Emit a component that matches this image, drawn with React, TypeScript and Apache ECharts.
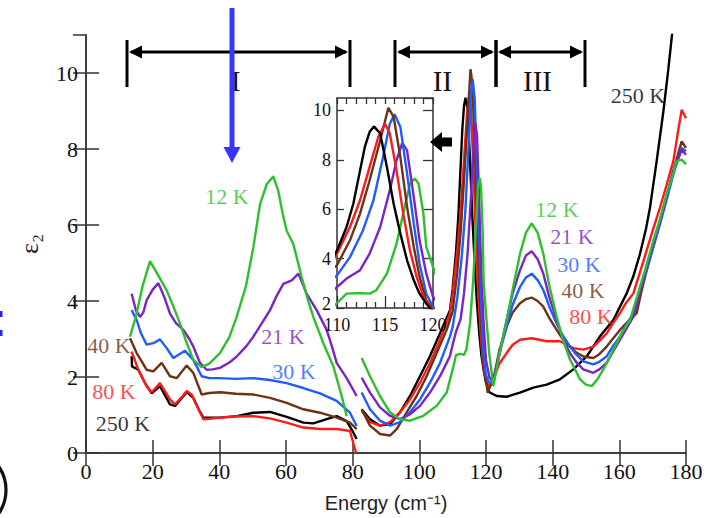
import React, { useEffect, useRef } from "react";
import * as echarts from "echarts";

// ---------- data (energy cm^-1, epsilon_2) ----------
const GAP: [number, string] = [81.9, "-"];

const k12: any[] = [
  [13.2, 3.06], [15, 3.6], [17, 4.4], [19.2, 5.05], [21.5, 4.7], [24.2, 4.28], [26, 3.9], [28.2, 3.41], [30.2, 2.9], [32.2, 2.45], [34.7, 2.26], [37, 2.35], [40.2, 2.63], [43, 3.05], [45.2, 3.58], [48, 4.4], [50.2, 5.41], [52.2, 6.54], [54.2, 7.07], [56.2, 7.28], [57.7, 6.89], [59, 6.3], [60.2, 5.85], [62.2, 5.5], [64.7, 4.63], [66.5, 4.05], [68.2, 3.58], [71.2, 2.89], [74.2, 2.28], [76.7, 1.5], [78.2, 0.97],
  GAP,
  [82.7, 2.5], [85.2, 2.02], [88.2, 1.5], [91.2, 1.07], [94.2, 0.89], [97.2, 0.85], [101.2, 0.98], [105.2, 1.24], [108.2, 1.59], [110, 2.2], [111, 2.58], [112.4, 2.61], [113.4, 2.58], [114.1, 2.72], [115.2, 3.39], [116.2, 4.6], [116.9, 5.82], [117.6, 7.03], [118.1, 7.24], [118.5, 7.03], [119, 5.82], [119.3, 4.47], [120, 3.66], [121, 2.6], [122.2, 1.76], [124, 2.6], [126.2, 3.5], [128, 4.3], [130.2, 5.24], [132, 5.8], [133.7, 6.04], [135.5, 5.8], [137.2, 5.24], [139, 4.4], [141.2, 3.59], [143, 3.0], [145.2, 2.46], [148.2, 1.94], [150, 1.8], [151.7, 1.76], [153.5, 1.95], [155.2, 2.2], [157, 2.5], [159.2, 2.89], [161, 3.2], [163.2, 3.5], [166.2, 4.37], [168, 4.9], [170.2, 5.59], [172, 6.1], [174.2, 6.81], [176, 7.3], [177.2, 7.68], [178.7, 7.72], [180, 7.6],
];

const k21: any[] = [
  [13.7, 4.19], [15, 3.75], [16.2, 3.58], [17.2, 3.7], [18.2, 4.02], [20, 4.3], [21.7, 4.47], [23.5, 4.1], [25.2, 3.67], [27, 3.42], [29.2, 3.24], [31, 3.0], [32.2, 2.8], [34.2, 2.37], [36.2, 2.19], [38, 2.2], [40.2, 2.24], [43, 2.38], [45.2, 2.54], [48, 2.8], [50.2, 3.06], [53, 3.45], [55.2, 3.76], [57, 4.1], [59.2, 4.45], [61.7, 4.54], [63.7, 4.72], [65, 4.45], [66.2, 4.19], [69.2, 3.76], [72.2, 3.24], [73.8, 2.8], [75.2, 2.37], [78.2, 1.97], [81.2, 1.5],
  GAP,
  [82.7, 1.98], [85.2, 1.59], [88.2, 1.2], [91.2, 0.98], [94.2, 0.89], [97.2, 1.02], [100.2, 1.24], [103.2, 1.59], [106.2, 2.02], [109.2, 2.55], [110, 2.85], [111, 3.19], [112.4, 3.53], [113.4, 4.2], [114.5, 5.28], [115.5, 6.76], [116.2, 7.98], [116.8, 8.68], [117.3, 8.38], [118, 6.49], [118.6, 4.74], [119.3, 3.39], [120, 2.45], [121, 2.0], [122.2, 1.85], [124, 2.6], [126.2, 3.5], [128, 4.2], [130.2, 4.81], [132, 5.2], [133.7, 5.31], [135.5, 5.1], [137.2, 4.72], [139, 4.1], [141.2, 3.5], [143, 3.0], [145.2, 2.63], [147, 2.4], [149.2, 2.2], [152.2, 2.11], [154, 2.2], [156.2, 2.37], [158, 2.65], [160.2, 2.98], [162, 3.25], [164.2, 3.59], [166, 4.2], [168.2, 4.9], [170, 5.45], [172.2, 6.11], [174, 6.7], [176.2, 7.42], [178.7, 7.98], [180, 7.85],
];

const k30: any[] = [
  [13.7, 3.76], [15.2, 3.5], [16.5, 3.15], [18.2, 2.85], [20.2, 2.89], [22.2, 2.99], [24.2, 2.76], [26.2, 2.5], [28, 2.6], [29.7, 2.69], [32.2, 2.45], [34.7, 2.02], [37, 1.97], [40.2, 1.97], [45, 1.95], [50.2, 1.97], [55.2, 1.92], [60.2, 1.84], [65.2, 1.71], [70.2, 1.57], [75.2, 1.37], [79.2, 1.06], [81.2, 0.71],
  GAP,
  [82.7, 1.59], [85.2, 1.15], [88.2, 0.85], [91.2, 0.72], [94.2, 0.81], [97.2, 1.07], [100.2, 1.41], [103.2, 1.85], [106.2, 2.37], [109.2, 3.07], [110, 3.32], [111.35, 4.06], [112.7, 5.14], [113.8, 6.36], [114.8, 8.11], [115.5, 9.46], [116, 9.84], [116.6, 9.33], [117.3, 7.44], [118, 5.41], [118.6, 3.79], [119.3, 2.58], [120, 2.04], [121, 1.85], [122.2, 1.85], [124, 2.6], [126.2, 3.33], [128, 3.9], [130.2, 4.37], [132, 4.62], [133.7, 4.72], [135.5, 4.55], [137.2, 4.29], [139, 3.85], [141.2, 3.41], [143, 3.1], [145.2, 2.8], [147, 2.6], [149.2, 2.41], [152.2, 2.33], [154, 2.4], [156.2, 2.54], [158, 2.8], [160.2, 3.07], [162, 3.35], [164.2, 3.68], [166, 4.2], [168.2, 4.81], [170, 5.35], [172.2, 6.02], [174, 6.6], [176.2, 7.33], [178.7, 8.03], [180, 7.94],
];

const k40: any[] = [
  [13.2, 3.02], [15.2, 2.63], [16.8, 2.4], [18.2, 2.19], [20.2, 2.15], [22.7, 2.37], [25.2, 2.02], [27.2, 1.97], [30.2, 2.3], [32.2, 2.11], [34.7, 1.54], [37, 1.58], [40.2, 1.6], [45, 1.56], [50.2, 1.54], [55.2, 1.45], [60.2, 1.32], [65.2, 1.15], [70.2, 1.06], [75.2, 0.93], [79.2, 0.8], [81.2, 0.63],
  GAP,
  [82.7, 1.15], [85.2, 0.72], [88.2, 0.5], [91.2, 0.46], [93.2, 0.63], [96.2, 1.07], [99.2, 1.5], [102.2, 2.02], [105.2, 2.63], [108.2, 3.24], [110, 3.73], [111.35, 4.74], [112.4, 5.82], [113.4, 7.17], [114.5, 8.79], [115.35, 10.1], [115.9, 9.73], [116.6, 8.11], [117.3, 6.09], [118, 4.47], [118.6, 3.26], [119.3, 2.31], [119.9, 2.0], [120.5, 1.58], [121.2, 1.75], [122.2, 1.94], [124, 2.7], [126.2, 3.33], [128, 3.7], [130.2, 3.94], [132, 4.05], [133.7, 4.09], [135.5, 4.0], [137.2, 3.85], [139, 3.55], [141.2, 3.24], [143, 3.0], [145.2, 2.8], [147, 2.65], [149.2, 2.54], [152.2, 2.5], [154, 2.6], [156.2, 2.8], [158, 3.0], [160.2, 3.24], [162.5, 3.45], [165.2, 3.68], [166.5, 4.2], [168.2, 4.81], [170, 5.4], [172.2, 6.11], [174, 6.7], [176.2, 7.42], [178.7, 8.2], [180, 8.03],
];

const k80: any[] = [
  [13.7, 2.67], [15.7, 2.19], [18.2, 1.76], [19.7, 1.6], [22.2, 1.84], [25.2, 1.41], [26.7, 1.28], [28.5, 1.45], [30.2, 1.63], [31.7, 1.54], [33.5, 1.2], [35.2, 0.89], [37, 0.9], [40.2, 0.93], [45, 0.96], [50.2, 0.97], [55.2, 0.91], [60.2, 0.8], [65.2, 0.67], [70.2, 0.63], [75.2, 0.63], [79.2, 0.58], [80.7, 0.1], [81.1, 0],
  GAP,
  [82.7, 1.11], [85.2, 0.81], [88.2, 0.72], [91.2, 0.81], [94.2, 1.07], [97.2, 1.41], [100.2, 1.85], [103.2, 2.37], [106.2, 2.98], [109.2, 3.67], [110, 4.2], [111.35, 5.28], [112.4, 6.36], [113.4, 7.71], [114.3, 8.92], [115, 9.46], [115.5, 9.06], [116.2, 7.57], [116.9, 5.82], [117.6, 4.33], [118.3, 3.26], [119, 2.45], [119.7, 2.04], [120.5, 1.8], [121.2, 1.75], [122.2, 1.94], [124, 2.35], [126.2, 2.63], [128, 2.85], [130.2, 2.98], [133.7, 3.02], [136, 2.98], [138.2, 2.94], [142.2, 2.94], [146.2, 2.76], [149.2, 2.72], [152.2, 2.8], [154, 2.95], [156.2, 3.15], [158, 3.4], [160.2, 3.68], [162, 3.95], [164.2, 4.2], [166, 4.7], [168.2, 5.33], [170, 5.85], [172.2, 6.46], [174, 7.0], [176.2, 7.68], [177.5, 8.4], [178.7, 9.03], [180, 8.81],
];

const k250: any[] = [
  [13.7, 2.55], [13.8, 2.28], [15.7, 2.19], [17.7, 1.84], [19.7, 1.57], [22.2, 1.76], [25.2, 1.28], [26.7, 1.24], [28.5, 1.42], [30.2, 1.6], [32.2, 1.45], [33.8, 1.15], [35.2, 0.93], [40.2, 0.93], [45.2, 0.97], [50.2, 1.06], [55.2, 1.08], [60.2, 0.95], [65.2, 0.8], [68.2, 0.78], [72.2, 0.89], [75.2, 0.97], [78.2, 0.84], [80.2, 0.54], [81.2, 0.37],
  GAP,
  [82.7, 1.15], [85.2, 0.89], [88.2, 0.72], [91.2, 0.76], [94.2, 1.07], [97.2, 1.5], [100.2, 2.02], [103.2, 2.55], [106.2, 3.15], [109.2, 3.76], [110, 4.33], [111, 5.28], [111.7, 6.22], [112.4, 7.57], [112.9, 8.52], [113.4, 9.13], [113.85, 9.35], [114.5, 9.06], [115.2, 7.71], [115.9, 6.22], [116.6, 5.01], [117.3, 3.93], [118, 3.12], [118.6, 2.58], [119.3, 2.18], [120, 1.85], [121, 1.6], [123.2, 1.5], [126.2, 1.48], [130.2, 1.59], [134.2, 1.72], [138.2, 1.8], [142.2, 1.94], [146.2, 2.2], [150.2, 2.54], [154.2, 3.07], [158.2, 3.5], [162.2, 4.2], [164.2, 4.65], [166.2, 5.24], [168, 5.9], [169.2, 6.46], [171.2, 7.68], [173.2, 8.98], [174.7, 10.1], [176, 11.16], [177, 12],
];

const seriesNames = ["12 K", "21 K", "30 K", "40 K", "80 K", "250 K"];
const seriesData = [k12, k21, k30, k40, k80, k250];
const seriesColors = ["#2dbf2d", "#7a24c8", "#1f5cff", "#6e3214", "#ff1a1a", "#000000"];

// curve labels (data units)
const labelText = ["12 K", "21 K", "30 K", "40 K", "80 K", "250 K", "12 K", "21 K", "30 K", "40 K", "80 K", "250 K"];
const labelSeries = [0, 1, 2, 3, 4, 5, 0, 1, 2, 3, 4, 5];
const labelX = [42.3, 59.1, 62.4, 6.9, 8.4, 11.1, 141.3, 145.8, 147.9, 149.1, 151.5, 165.6];
const labelY = [6.8, 3.11, 2.2, 2.88, 1.66, 0.84, 6.46, 5.75, 5.02, 4.34, 3.64, 9.46];

// region brackets
const regionNames = ["I", "II", "III"];
const regionFrom = [12.3, 92.7, 123];
const regionTo = [79.2, 123, 149.7];

// axis ranges / ticks
const mainXMin = 0, mainXMax = 180, mainXStep = 20;
const mainYMin = 0, mainYMax = 11, mainYStep = 2;
const insetXMin = 110, insetXMax = 120, insetXStep = 5;
const insetYMin = 2, insetYMax = 10.5, insetYStep = 2;

const SERIF = "Liberation Serif, Times New Roman, serif";
const SANS = "Liberation Sans, Arial, sans-serif";

const G = { left: 86, top: 35, width: 600, height: 422 };
const I = { left: 337, top: 98, width: 96, height: 210 };

function px(x: number) {
  return G.left + ((x - mainXMin) / (mainXMax - mainXMin)) * G.width;
}

export default function App() {
  const ref = useRef<HTMLDivElement>(null);
  useEffect(() => {
    if (!ref.current) return;
    const chart = echarts.init(ref.current, undefined, { renderer: "svg" });
    const axisLine = { show: true, lineStyle: { color: "#333", width: 1.5 } };

    const graphic: any[] = [];
    const barTop = 40, barBot = 87, arrowY = 52;
    regionNames.forEach((name, i) => {
      const x1 = px(regionFrom[i]);
      const x2 = px(regionTo[i]);
      graphic.push({ type: "line", shape: { x1: x1 + 4, y1: arrowY, x2: x2 - 4, y2: arrowY }, style: { stroke: "#000", lineWidth: 3 } });
      graphic.push({ type: "line", shape: { x1: x1, y1: barTop, x2: x1, y2: barBot }, style: { stroke: "#000", lineWidth: 3 } });
      graphic.push({ type: "line", shape: { x1: x2, y1: barTop, x2: x2, y2: barBot }, style: { stroke: "#000", lineWidth: 3 } });
      graphic.push({ type: "polygon", shape: { points: [[x1 + 2, arrowY], [x1 + 15, arrowY - 6.5], [x1 + 15, arrowY + 6.5]] }, style: { fill: "#000" } });
      graphic.push({ type: "polygon", shape: { points: [[x2 - 2, arrowY], [x2 - 15, arrowY - 6.5], [x2 - 15, arrowY + 6.5]] }, style: { fill: "#000" } });
      graphic.push({ type: "text", x: (x1 + x2) / 2 - 3, y: 81, style: { text: name, fill: "#111", fontSize: 29, fontFamily: SERIF, align: "center", verticalAlign: "middle" } });
    });
    // blue arrow
    const bx = 232;
    graphic.push({ type: "line", shape: { x1: bx, y1: 8, x2: bx, y2: 150 }, style: { stroke: "#3535ff", lineWidth: 5 } });
    graphic.push({ type: "polygon", shape: { points: [[bx - 8.5, 147], [bx + 8.5, 147], [bx, 163]] }, style: { fill: "#3535ff" } });
    // black arrow pointing left
    graphic.push({ type: "polygon", z: 30, shape: { points: [[430, 142], [442, 132], [442, 137.5], [452, 137.5], [452, 146.5], [442, 146.5], [442, 152]] }, style: { fill: "#000" } });
    // cropped fragments at the left edge
    graphic.push({ type: "rect", shape: { x: 0, y: 311, width: 2.5, height: 6 }, style: { fill: "#2222ff" } });
    graphic.push({ type: "rect", shape: { x: 0, y: 330, width: 2.5, height: 6 }, style: { fill: "#2222ff" } });
    graphic.push({ type: "arc", shape: { cx: -36, cy: 490, r: 42, startAngle: -0.58, endAngle: 0.58 }, style: { stroke: "#111", lineWidth: 3.2, fill: null } });

    const series: any[] = [];
    seriesData.forEach((d, i) => {
      series.push({ type: "line", name: seriesNames[i], xAxisIndex: 0, yAxisIndex: 0, data: d, showSymbol: false, symbol: "none", connectNulls: false, lineStyle: { color: seriesColors[i], width: 2.4 }, itemStyle: { color: seriesColors[i] }, z: 3 + (5 - i) });
    });
    seriesData.forEach((d, i) => {
      series.push({ type: "line", name: seriesNames[i] + " inset", xAxisIndex: 2, yAxisIndex: 2, data: d, showSymbol: false, symbol: "none", connectNulls: false, lineStyle: { color: seriesColors[i], width: 2.4 }, itemStyle: { color: seriesColors[i] }, z: 12 });
    });
    // curve labels as a label-only scatter series
    series.push({
      type: "scatter", name: "labels", xAxisIndex: 0, yAxisIndex: 0, z: 20, silent: true,
      symbolSize: 1, itemStyle: { color: "rgba(0,0,0,0)" },
      data: labelText.map((t, i) => ({
        value: [labelX[i], labelY[i]], name: t,
        label: { color: seriesColors[labelSeries[i]] },
      })),
      label: { show: true, position: "inside", offset: [0, 2], formatter: (p: any) => p.name, fontFamily: SERIF, fontSize: 22 },
    });

    chart.setOption({
      animation: false,
      backgroundColor: "#fff",
      grid: [
        { left: G.left, top: G.top, width: G.width, height: G.height, containLabel: false },
        { left: I.left, top: I.top, width: I.width, height: I.height, show: true, backgroundColor: "#fff", borderWidth: 0, z: 10 },
      ],
      xAxis: [
        {
          gridIndex: 0, type: "value", min: mainXMin, max: mainXMax, interval: mainXStep, position: "bottom",
          axisLine, axisTick: { show: true, inside: true, length: 13, lineStyle: { color: "#333", width: 1.5 } },
          axisLabel: { show: true, fontFamily: SERIF, fontSize: 22, color: "#111", margin: 7 },
          splitLine: { show: false },
          name: "Energy (cm\u207B\u00B9)", nameLocation: "middle", nameGap: 40,
          nameTextStyle: { fontFamily: SANS, fontSize: 20, color: "#222" },
        },
        {
          gridIndex: 0, type: "value", min: mainXMin, max: mainXMax, interval: mainXStep, position: "top",
          axisLine, axisTick: { show: true, inside: true, length: 13, lineStyle: { color: "#333", width: 1.5 } },
          axisLabel: { show: false }, splitLine: { show: false },
        },
        {
          gridIndex: 1, type: "value", min: insetXMin, max: insetXMax, interval: insetXStep, position: "bottom", z: 11,
          axisLine, axisTick: { show: true, inside: true, length: 12, lineStyle: { color: "#333", width: 1.3 } },
          minorTick: { show: true, splitNumber: 5, length: 6, lineStyle: { color: "#333", width: 1.3 } },
          axisLabel: { show: true, fontFamily: SERIF, fontSize: 18, color: "#111", margin: 8 },
          splitLine: { show: false },
        },
        {
          gridIndex: 1, type: "value", min: insetXMin, max: insetXMax, interval: insetXStep, position: "top", z: 11,
          axisLine, axisTick: { show: true, inside: true, length: 6, lineStyle: { color: "#333", width: 1.3 } },
          minorTick: { show: true, splitNumber: 5, length: 6, lineStyle: { color: "#333", width: 1.3 } },
          axisLabel: { show: false }, splitLine: { show: false },
        },
      ],
      yAxis: [
        {
          gridIndex: 0, type: "value", min: mainYMin, max: mainYMax, interval: mainYStep, position: "left",
          axisLine, axisTick: { show: true, inside: true, length: 13, lineStyle: { color: "#333", width: 1.5 } },
          axisLabel: { show: true, fontFamily: SERIF, fontSize: 22, color: "#111", margin: 8, showMaxLabel: false },
          splitLine: { show: false },
          name: "\u03B5\u2082", nameLocation: "middle", nameRotate: 90, nameGap: 44,
          nameTextStyle: { fontFamily: SERIF, fontSize: 26, color: "#222" },
        },
        {
          gridIndex: 0, type: "value", min: mainYMin, max: mainYMax, interval: mainYStep, position: "right",
          axisLine, axisTick: { show: true, inside: true, length: 13, lineStyle: { color: "#333", width: 1.5 } },
          axisLabel: { show: false }, splitLine: { show: false },
        },
        {
          gridIndex: 1, type: "value", min: insetYMin, max: insetYMax, interval: insetYStep, position: "left", z: 11,
          axisLine, axisTick: { show: true, inside: true, length: 7, lineStyle: { color: "#333", width: 1.3 } },
          axisLabel: {
            show: true, fontFamily: SERIF, fontSize: 18, color: "#111", margin: 6, showMaxLabel: false,
            formatter: (v: number) => (v === insetYMin ? "{lo|" + v + "}" : String(v)),
            rich: { lo: { fontFamily: SERIF, fontSize: 18, color: "#111", padding: [0, 0, 9, 0] } },
          },
          splitLine: { show: false },
        },
        {
          gridIndex: 1, type: "value", min: insetYMin, max: insetYMax, interval: insetYStep, position: "right", z: 11,
          axisLine, axisTick: { show: true, inside: true, length: 10, lineStyle: { color: "#333", width: 1.3 } },
          axisLabel: { show: false }, splitLine: { show: false },
        },
      ],
      series,
      graphic,
    });
    return () => chart.dispose();
  }, []);
  return <div ref={ref} style={{ width: 718, height: 518, position: "absolute", left: 0, top: 0 }} />;
}
